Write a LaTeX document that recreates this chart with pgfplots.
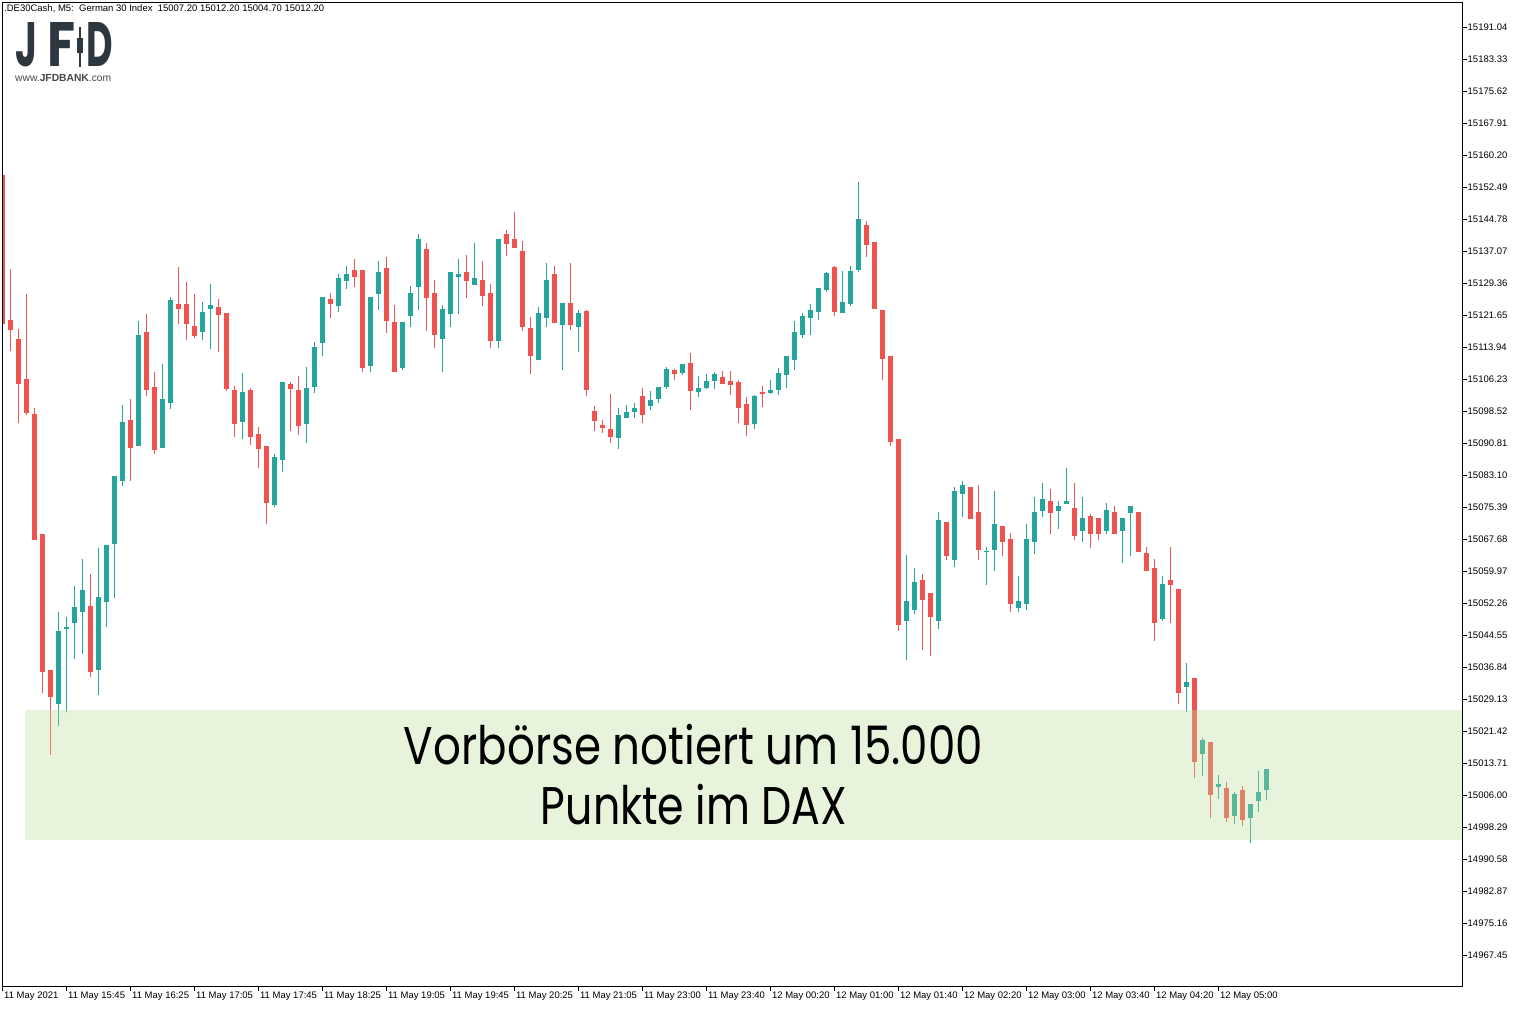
\documentclass[border=0pt]{standalone}
\usepackage{fontspec}
\setmainfont{Liberation Sans}
\newfontfamily\logofont{Poppins}
\newfontfamily\bigfont{Poppins}
\usepackage{graphicx}
\usepackage{pgfplots}
\usepackage{pgfplotstable}
\pgfplotsset{compat=1.18}
\definecolor{cred}{RGB}{239,83,80}
\definecolor{cgreen}{RGB}{38,166,154}
\definecolor{zone}{RGB}{188,220,153}
\definecolor{logo}{RGB}{45,55,64}
\newcommand\lab{\fontsize{9.5bp}{11bp}\selectfont}

\pgfplotstableread{
i o h l c
0 15155.38 15155.38 15119.55 15119.55
1 15120.54 15132.71 15112.93 15118.01
2 15115.75 15118.18 15095.53 15105.05
3 15106.13 15126.61 15097.51 15098.06
4 15097.70 15099.15 15067.42 15067.42
5 15068.76 15068.76 15030.50 15035.59
6 15036.21 15036.21 15015.64 15029.59
11 15051.63 15059.15 15034.41 15035.59
16 15096.26 15101.32 15081.65 15089.63
18 15117.65 15121.82 15102.13 15103.60
19 15104.23 15107.84 15088.18 15089.08
22 15124.18 15133.14 15119.46 15123.10
23 15124.18 15129.70 15115.65 15119.46
24 15119.10 15126.61 15116.11 15116.57
27 15123.58 15125.51 15112.74 15121.53
28 15122.13 15122.13 15103.41 15103.89
29 15103.58 15104.54 15092.33 15095.46
31 15103.58 15104.06 15090.40 15092.33
32 15092.98 15094.67 15084.86 15089.44
33 15090.09 15090.09 15071.29 15076.43
36 15105.03 15105.51 15093.77 15103.89
37 15103.58 15106.95 15092.81 15094.98
41 15125.51 15126.95 15121.00 15124.37
44 15132.49 15135.14 15128.47 15130.88
45 15132.49 15132.49 15107.99 15108.95
48 15132.97 15135.62 15117.39 15120.28
49 15119.96 15124.06 15107.99 15107.99
53 15137.55 15139.00 15117.87 15125.82
54 15126.95 15130.08 15113.77 15116.90
58 15132.01 15136.11 15125.82 15129.91
60 15130.08 15134.66 15123.89 15126.30
61 15126.95 15129.12 15113.77 15115.46
63 15141.17 15142.13 15135.94 15138.83
64 15139.96 15146.47 15137.87 15137.87
65 15137.07 15139.48 15117.87 15118.83
66 15118.52 15121.17 15107.51 15111.84
69 15131.53 15133.46 15119.79 15119.79
71 15124.54 15134.18 15118.11 15119.31
73 15122.61 15122.85 15102.21 15103.65
74 15098.52 15099.72 15093.77 15096.18
75 15095.15 15096.35 15093.29 15094.50
76 15094.18 15102.62 15090.88 15092.33
80 15102.13 15104.01 15095.70 15097.63
84 15108.40 15108.64 15106.06 15107.51
86 15110.09 15112.49 15098.83 15103.41
90 15106.71 15108.16 15105.10 15105.10
91 15105.75 15108.16 15102.45 15104.86
92 15105.51 15105.99 15095.70 15099.32
93 15100.21 15101.89 15092.57 15095.22
95 15103.10 15104.54 15099.56 15102.69
104 15133.22 15133.46 15121.48 15122.45
108 15143.33 15144.30 15135.70 15138.59
109 15139.24 15139.24 15123.17 15123.17
110 15122.85 15122.85 15106.06 15111.12
111 15111.77 15111.77 15090.16 15091.12
112 15091.77 15091.77 15045.59 15047.03
115 15057.80 15059.25 15041.01 15053.06
116 15054.67 15054.67 15039.56 15048.96
118 15071.78 15071.78 15062.69 15063.66
121 15080.21 15080.21 15072.57 15072.57
122 15074.19 15080.69 15062.69 15065.10
125 15070.81 15070.81 15063.66 15067.03
126 15067.68 15069.13 15050.16 15052.09
131 15076.84 15079.73 15068.96 15074.02
134 15075.15 15081.17 15067.51 15068.48
136 15073.22 15073.70 15065.58 15068.96
137 15072.74 15072.74 15067.44 15068.96
139 15074.19 15075.63 15068.96 15068.96
142 15074.19 15074.19 15064.62 15064.62
143 15064.31 15065.75 15060.04 15060.04
144 15060.69 15062.86 15043.18 15047.51
146 15057.80 15065.75 15047.51 15056.67
147 15055.63 15055.63 15028.00 15030.65
149 15034.19 15034.19 15010.17 15014.02
151 15018.77 15018.77 15000.53 15006.07
153 15007.76 15009.20 14999.57 15000.53
155 15007.28 15008.24 14998.60 15000.05
}\redc

\pgfplotstableread{
i o h l c
7 15027.97 15050.19 15022.53 15045.63
8 15045.92 15048.81 15025.97 15046.55
9 15047.37 15056.36 15038.84 15051.18
10 15050.09 15062.89 15039.92 15055.27
12 15036.12 15065.61 15030.05 15053.63
13 15052.45 15066.14 15046.45 15066.14
14 15066.40 15082.74 15053.44 15082.74
15 15081.65 15100.06 15080.47 15095.80
17 15090.09 15120.11 15090.09 15116.74
20 15089.63 15109.75 15089.63 15101.32
21 15100.42 15126.08 15098.98 15125.17
25 15117.55 15124.71 15115.65 15122.28
26 15122.98 15129.12 15113.34 15124.06
30 15095.94 15107.68 15091.85 15103.10
34 15075.94 15088.16 15075.46 15087.44
35 15086.79 15105.51 15083.90 15105.51
38 15095.46 15109.12 15090.88 15104.06
39 15104.37 15115.14 15102.93 15113.94
40 15114.98 15125.99 15111.84 15125.99
42 15123.89 15131.53 15122.45 15130.56
43 15129.91 15133.46 15127.99 15131.53
46 15109.43 15125.99 15107.99 15125.99
47 15126.78 15134.66 15122.93 15132.01
50 15108.95 15119.96 15108.47 15119.96
51 15121.48 15128.64 15118.83 15126.95
52 15128.47 15141.17 15122.93 15139.96
55 15115.94 15124.06 15107.99 15123.10
56 15121.96 15132.01 15118.83 15132.01
57 15130.88 15135.14 15121.96 15131.53
59 15128.95 15139.00 15128.95 15130.56
62 15115.46 15139.96 15113.77 15139.96
67 15110.88 15123.58 15110.88 15122.13
68 15121.00 15134.18 15118.83 15130.08
70 15119.31 15124.54 15108.47 15124.54
72 15118.83 15122.85 15112.81 15122.13
77 15092.09 15099.24 15089.44 15097.56
78 15096.91 15099.97 15096.91 15098.28
79 15098.28 15100.45 15096.91 15099.24
81 15099.80 15103.34 15098.83 15101.17
82 15101.48 15104.30 15100.52 15104.30
83 15104.37 15109.12 15103.89 15108.64
85 15107.75 15109.84 15107.27 15109.84
87 15103.17 15106.95 15101.97 15104.06
88 15104.13 15107.43 15103.89 15105.75
89 15105.82 15107.92 15103.89 15107.43
94 15095.46 15102.38 15094.26 15102.13
96 15102.93 15105.99 15102.69 15103.58
97 15103.65 15108.88 15102.45 15107.68
98 15107.27 15111.77 15104.13 15111.77
99 15110.88 15120.20 15108.47 15117.55
100 15116.90 15122.13 15116.18 15121.41
101 15121.00 15124.30 15116.90 15122.85
102 15122.45 15128.16 15120.52 15128.16
103 15127.75 15132.01 15127.26 15131.77
105 15122.20 15132.25 15122.20 15124.78
106 15124.37 15133.46 15123.89 15132.25
107 15132.56 15153.69 15132.08 15144.78
113 15047.99 15063.82 15038.60 15052.74
114 15050.65 15060.69 15049.68 15057.32
117 15047.99 15074.19 15046.07 15072.26
119 15062.69 15080.21 15061.01 15079.25
120 15078.59 15081.65 15073.05 15080.69
123 15064.55 15065.75 15056.67 15064.79
124 15065.10 15079.25 15060.04 15071.29
127 15051.13 15058.77 15050.16 15052.74
128 15052.09 15071.29 15050.65 15067.68
129 15067.03 15077.80 15064.14 15074.19
130 15074.50 15081.17 15073.05 15077.32
132 15074.50 15076.84 15070.16 15075.63
133 15076.19 15084.79 15076.19 15076.84
135 15069.68 15077.80 15067.03 15072.74
138 15069.68 15076.35 15068.96 15074.67
140 15069.68 15072.74 15061.97 15072.74
141 15074.02 15075.63 15063.66 15075.63
145 15048.48 15058.77 15047.99 15056.84
148 15032.09 15037.80 15026.07 15033.23
150 15015.95 15019.73 15010.65 15019.25
152 15008.00 15010.89 15005.11 15008.72
154 15001.01 15006.80 14999.09 15006.31
156 15000.53 15003.90 14994.51 15003.90
157 15004.63 15011.85 15001.98 15006.80
158 15007.20 15012.20 15004.70 15012.20
}\greenc

\begin{document}
\begin{tikzpicture}[x=1bp,y=1bp]
\fill[white] (0,0) rectangle (1520,1008);
\useasboundingbox (0,0) rectangle (1520,1008);
\begin{axis}[
  at={(2.5bp,21.3bp)}, anchor=south west,
  scale only axis, width=1459.5bp, height=983.7bp,
  xmin=0, xmax=182.46, ymin=14959.81, ymax=15196.82,
  axis on top,
  axis line style={black, line width=1bp},
  tick align=outside, major tick length=4.5bp,
  xtick pos=left, ytick pos=right, yticklabel pos=right,
  tick style={black, line width=0.9bp},
  xtick={0,8,16,24,32,40,48,56,64,72,80,88,96,104,112,120,128,136,144,152},
  xticklabels={11 May 2021,11 May 15:45,11 May 16:25,11 May 17:05,11 May 17:45,11 May 18:25,11 May 19:05,11 May 19:45,11 May 20:25,11 May 21:05,11 May 23:00,11 May 23:40,12 May 00:20,12 May 01:00,12 May 01:40,12 May 02:20,12 May 03:00,12 May 03:40,12 May 04:20,12 May 05:00},
  ytick={15191.04,15183.33,15175.62,15167.91,15160.20,15152.49,15144.78,15137.07,15129.36,15121.65,15113.94,15106.23,15098.52,15090.81,15083.10,15075.39,15067.68,15059.97,15052.26,15044.55,15036.84,15029.13,15021.42,15013.71,15006.00,14998.29,14990.58,14982.87,14975.16,14967.45},
  yticklabels={15191.04,15183.33,15175.62,15167.91,15160.20,15152.49,15144.78,15137.07,15129.36,15121.65,15113.94,15106.23,15098.52,15090.81,15083.10,15075.39,15067.68,15059.97,15052.26,15044.55,15036.84,15029.13,15021.42,15013.71,15006.00,14998.29,14990.58,14982.87,14975.16,14967.45},
  x tick label style={font=\lab, anchor=north west, inner sep=0pt, xshift=1.5bp, yshift=-0.5bp},
  y tick label style={font=\lab, anchor=west, inner sep=0pt, xshift=1bp},
]
\addplot[cred, line width=1.2bp, quiver={u=0,v=\thisrow{h}-\thisrow{l}}] table[x=i,y=l]{\redc};
\addplot[cred, line width=5.2bp, quiver={u=0,v=\thisrow{c}-\thisrow{o}}] table[x=i,y=o]{\redc};
\addplot[cgreen, line width=1.2bp, quiver={u=0,v=\thisrow{h}-\thisrow{l}}] table[x=i,y=l]{\greenc};
\addplot[cgreen, line width=5.2bp, quiver={u=0,v=\thisrow{c}-\thisrow{o}}] table[x=i,y=o]{\greenc};
\addplot[draw=none, fill=zone, fill opacity=0.343] coordinates {(2.84,14995.15) (182.46,14995.15) (182.46,15026.48) (2.84,15026.48)};
\end{axis}
% texts
\node[anchor=base, inner sep=0pt, text=black] at (693.5,244) {\resizebox{579bp}{\height}{\bigfont\fontsize{53bp}{53bp}\selectfont Vorbörse notiert um 15.000}};
\node[anchor=base, inner sep=0pt, text=black] at (694,184) {\resizebox{306bp}{\height}{\bigfont\fontsize{53bp}{53bp}\selectfont Punkte im DAX}};
\node[anchor=west, inner sep=0pt] at (4,998.5) {\lab\strut.DE30Cash, M5:\ \ German 30 Index\ \ 15007.20 15012.20 15004.70 15012.20};
% logo
\node[anchor=south west, inner sep=0pt, text=logo] at (15,941) {\resizebox{22bp}{44bp}{\logofont\bfseries J}};
\node[anchor=south west, inner sep=0pt, text=logo] at (47,941) {\resizebox{28bp}{44bp}{\logofont\bfseries F}};
\node[anchor=south west, inner sep=0pt, text=logo] at (86,941) {\resizebox{26.5bp}{44bp}{\logofont\bfseries D}};
\draw[logo, line width=1.6bp] (80,981) -- (80,941);
\fill[logo] (77,969.7) rectangle (83,954.7);
\node[anchor=west, inner sep=0pt, text={rgb,255:red,70;green,70;blue,70}] at (15,929.5) {\resizebox{96bp}{!}{\lab www.\textbf{JFDBANK}.com}};
\end{tikzpicture}
\end{document}
